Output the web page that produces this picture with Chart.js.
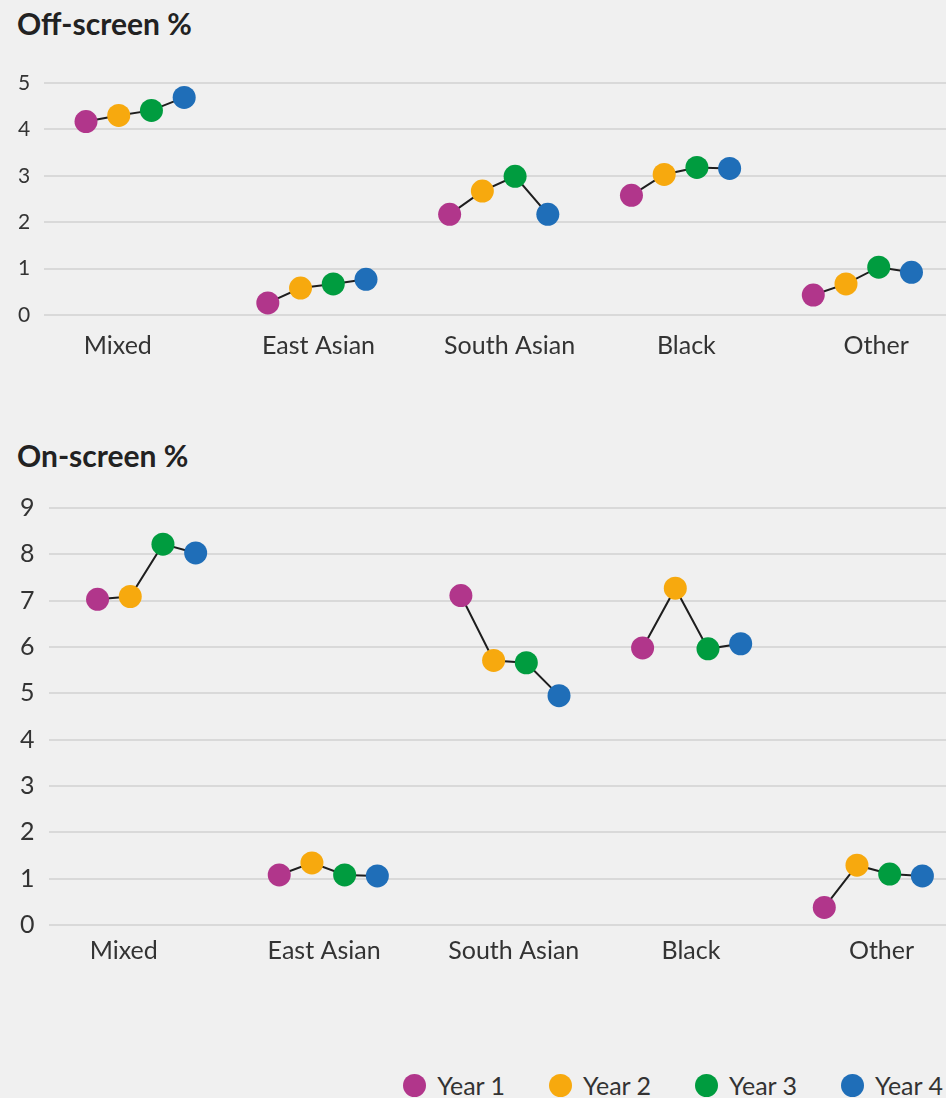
<!doctype html>
<html lang="en">
<head>
<meta charset="utf-8">
<title>Off-screen and on-screen %</title>
<script src="https://cdn.jsdelivr.net/npm/chart.js"></script>
<style>
  * { margin: 0; padding: 0; }
  body { width: 946px; height: 1098px; background: #f0f0f0; font-family: Lato, sans-serif; color: #333; position: relative; overflow: hidden; }
  .title { position: absolute; left: 17px; font-size: 30px; line-height: 30px; font-weight: bold; color: #222; }
  canvas { position: absolute; left: 0; }
  #legend { position: absolute; right: 3px; top: 1072px; display: flex; align-items: center; height: 26px; font-size: 25px; line-height: 26px; color: #333; }
  #legend .item { display: flex; align-items: center; margin-left: 44px; }
  #legend .dot { width: 23px; height: 23px; border-radius: 50%; margin-right: 11px; }
</style>
</head>
<body>
<div class="title" style="top:8px">Off-screen %</div>
<canvas id="offChart" width="946" height="382" style="top:0"></canvas>
<div class="title" style="top:440px">On-screen %</div>
<canvas id="onChart" width="946" height="562" style="top:420px"></canvas>
<div id="legend"></div>

<script>
// categories and series
const categories = ['Mixed', 'East Asian', 'South Asian', 'Black', 'Other'];
const years = ['Year 1', 'Year 2', 'Year 3', 'Year 4'];
const yearColors = ['#b1368b', '#f7a90e', '#009c3f', '#1f6eb8'];

// Off-screen %
const offYear1 = [4.17, 0.26, 2.17, 2.58, 0.43];
const offYear2 = [4.30, 0.58, 2.67, 3.03, 0.67];
const offYear3 = [4.41, 0.67, 2.99, 3.18, 1.03];
const offYear4 = [4.69, 0.77, 2.17, 3.16, 0.92];
const offTicks = [0, 1, 2, 3, 4, 5];

// On-screen %
const onYear1 = [7.03, 1.08, 7.11, 5.98, 0.38];
const onYear2 = [7.09, 1.34, 5.71, 7.27, 1.29];
const onYear3 = [8.22, 1.08, 5.66, 5.96, 1.10];
const onYear4 = [8.03, 1.06, 4.95, 6.07, 1.06];
const onTicks = [0, 1, 2, 3, 4, 5, 6, 7, 8, 9];

const yearGap = 0.18; // spacing of the years inside one category (x units)

Chart.defaults.font.family = 'Lato, sans-serif';
Chart.defaults.color = '#333';

function xPos(catIndex, yearIndex) {
    return catIndex + (yearIndex - 1.5) * yearGap;
}

function buildChart(canvasId, series, ticks, opts) {
    const datasets = series.map(function (values, j) {
        return {
            label: years[j],
            data: values.map(function (v, i) { return { x: xPos(i, j), y: v }; }),
            backgroundColor: yearColors[j],
            borderWidth: 0,
            pointRadius: 11.5,
            pointHoverRadius: 11.5,
            showLine: false,
            clip: false,
            order: 1
        };
    });

    // black connector, broken between categories
    const connector = [];
    categories.forEach(function (c, i) {
        if (i > 0) connector.push({ x: i - 0.5, y: null });
        series.forEach(function (values, j) {
            connector.push({ x: xPos(i, j), y: values[i] });
        });
    });
    datasets.push({
        type: 'line',
        label: 'connector',
        data: connector,
        borderColor: '#1e1e1e',
        borderWidth: 2,
        pointRadius: 0,
        spanGaps: false,
        clip: false,
        order: 5
    });

    return new Chart(document.getElementById(canvasId), {
        type: 'scatter',
        data: { datasets: datasets },
        options: {
            responsive: false,
            animation: false,
            layout: { padding: opts.padding, autoPadding: false },
            plugins: { legend: { display: false }, tooltip: { enabled: false } },
            scales: {
                x: {
                    type: 'linear',
                    min: opts.xMin,
                    max: opts.xMax,
                    grid: { display: false, drawTicks: false },
                    border: { display: false },
                    afterBuildTicks: function (scale) {
                        // category labels sit a little off the group centres, as in the original
                        scale.ticks = categories.map(function (c, i) { return { value: i + opts.labelShift[i] }; });
                    },
                    ticks: {
                        autoSkip: false,
                        maxRotation: 0,
                        padding: opts.xPad,
                        font: { size: opts.catSize },
                        color: '#333',
                        callback: function (v, index) { return categories[index]; }
                    }
                },
                y: {
                    min: ticks[0],
                    max: ticks[ticks.length - 1],
                    afterBuildTicks: function (scale) {
                        scale.ticks = ticks.map(function (t) { return { value: t }; });
                    },
                    grid: { color: '#d9d9d9', lineWidth: 2, drawTicks: false },
                    border: { display: false },
                    ticks: {
                        padding: 14,
                        font: { size: opts.tickSize },
                        color: '#333'
                    }
                }
            }
        }
    });
}

buildChart('offChart', [offYear1, offYear2, offYear3, offYear4], offTicks, {
    padding: { top: 83, left: 4, right: 0, bottom: 5 },
    xMin: -0.5, xMax: 4.46, xPad: 16, catSize: 25, tickSize: 21,
    labelShift: [-0.095, 0.009, 0.06, 0.032, 0.076]
});

buildChart('onChart', [onYear1, onYear2, onYear3, onYear4], onTicks, {
    padding: { top: 88, left: 6, right: 0, bottom: 5 },
    xMin: -0.54, xMax: 4.40, xPad: 11, catSize: 25, tickSize: 25,
    labelShift: [-0.126, -0.023, 0.021, -0.004, 0.045]
});

// legend
const legend = document.getElementById('legend');
years.forEach(function (y, j) {
    const item = document.createElement('div');
    item.className = 'item';
    if (j === 0) item.style.marginLeft = '0';
    const dot = document.createElement('span');
    dot.className = 'dot';
    dot.style.background = yearColors[j];
    const txt = document.createElement('span');
    txt.textContent = y;
    item.appendChild(dot);
    item.appendChild(txt);
    legend.appendChild(item);
});
</script>
</body>
</html>
